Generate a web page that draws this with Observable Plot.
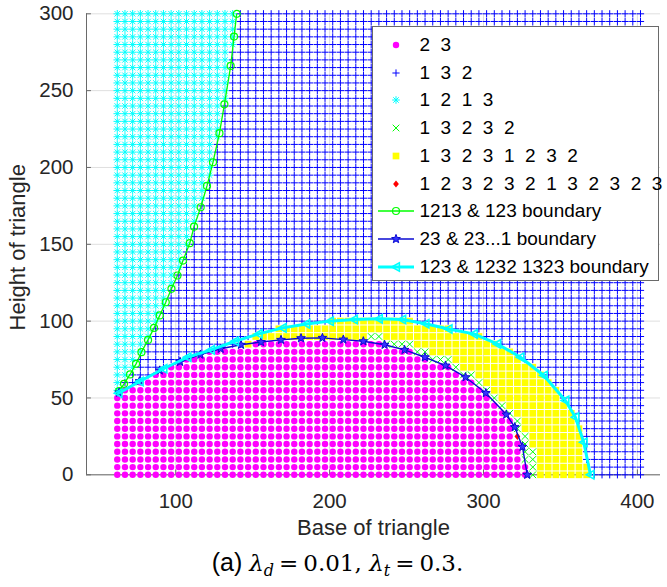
<!DOCTYPE html>
<html><head><meta charset="utf-8">
<script src="https://cdn.jsdelivr.net/npm/d3@7"></script>
<script src="https://cdn.jsdelivr.net/npm/@observablehq/plot@0.6"></script>
<style>
html,body{margin:0;padding:0;background:#fff;}
body{width:667px;height:587px;overflow:hidden;position:relative;font-family:"Liberation Sans",Arial,sans-serif;}
#chart{position:absolute;left:0;top:0;}
#legend{position:absolute;left:372px;top:26px;width:287px;height:255px;border:1px solid #6a6a6a;background:#fff;box-sizing:border-box;overflow:visible;}
.lrow{position:absolute;left:0;height:28px;width:287px;overflow:visible;}
.lrow svg{position:absolute;left:0;top:0;}
.ltxt{position:absolute;left:46.5px;top:3px;font-size:19px;line-height:22px;white-space:pre;color:#000;}
#caption{position:absolute;left:4px;width:667px;top:547px;text-align:center;font-size:25px;line-height:30px;color:#000;white-space:nowrap;}
#caption .m{font-family:"DejaVu Serif",serif;font-size:23px;}
#caption .eq{font-family:"DejaVu Serif",serif;font-size:23px;padding:0 5px;}
#caption i{font-family:"DejaVu Serif",serif;font-style:italic;font-size:23px;}
#caption sub{font-size:16px;vertical-align:-5px;line-height:0;}
#caption sub i{font-size:16px;}
</style>
</head><body>
<div id="chart"></div>
<div id="legend"></div>
<div id="caption">(a) <i>λ</i><sub><i>d</i></sub><span class="eq">=</span><span class="m">0.01, </span><i>λ</i><sub><i>t</i></sub><span class="eq">=</span><span class="m">0.3.</span></div>
<script>
// ---------------- data ----------------
const baseValues = [62,67,72,77,82,87,92,97,102,107,112,117,122,127,132,137,142,147,152,157,162,167,172,177,182,187,192,197,202,207,212,217,222,227,232,237,242,247,252,257,262,267,272,277,282,287,292,297,302,307,312,317,322,327,332,337,342,347,352,357,362,367,372,377,382,387,392,397,402];
const heightValues = [0,5,10,15,20,25,30,35,40,45,50,55,60,65,70,75,80,85,90,95,100,105,110,115,120,125,130,135,140,145,150,155,160,165,170,175,180,185,190,195,200,205,210,215,220,225,230,235,240,245,250,255,260,265,270,275,280,285,290,295,300];
// per base column: highest height of each region (stacked from the bottom)
const pinkTop = [50,55,55,60,60,65,65,70,70,75,75,75,80,80,80,80,80,80,85,85,85,85,85,85,85,85,85,85,85,85,85,85,85,85,85,80,80,80,80,75,75,70,70,70,65,60,60,55,50,45,40,35,20,5,-5,-5,-5,-5,-5,-5,-5,-5,-5,-5,-5,-5,-5,-5,-5];
const greenTop = [50,55,55,60,60,65,65,70,70,75,75,75,80,80,80,80,80,80,85,85,85,85,85,85,85,85,85,85,85,85,85,85,85,90,90,85,85,85,85,80,80,75,75,75,70,65,65,60,55,50,45,40,35,25,15,-5,-5,-5,-5,-5,-5,-5,-5,-5,-5,-5,-5,-5,-5];
const yellowTop = [50,55,55,60,60,65,65,70,70,75,75,75,80,80,80,80,80,85,90,90,90,95,95,95,95,95,95,95,100,100,100,100,100,100,100,100,100,100,100,95,95,95,95,95,90,90,90,90,85,85,80,80,75,70,70,65,60,55,45,40,30,5,-5,-5,-5,-5,-5,-5,-5];
// lowest height of the "1 2 1 3" region in each column (null: none)
const asteriskFrom = [55,65,70,80,90,100,110,125,135,150,165,180,195,220,245,280,null,null,null,null,null,null,null,null,null,null,null,null,null,null,null,null,null,null,null,null,null,null,null,null,null,null,null,null,null,null,null,null,null,null,null,null,null,null,null,null,null,null,null,null,null,null,null,null,null,null,null,null,null];
const redBase = [322];
const redHeight = [25];

// boundaries
const greenBx = [63.2,66.4,70.3,74.2,77.7,82.0,85.9,89.6,93.5,97.2,101.1,104.7,109.1,111.9,116.2,120.3,124.2,128.4,131.6,135.7,137.9,139.6];
const greenBy = [54.4,59.2,65.3,72.2,79.8,87.8,95.6,103.7,112.3,121.0,129.7,139.4,150.7,161.5,174.1,188.0,203.4,222.3,241.1,266.1,285.2,300.0];
const starBx = [63.2,76.4,89.6,102.8,116.0,129.2,142.4,155.4,168.4,181.4,195.3,208.9,221.9,235.7,248.7,261.9,275.3,288.3,301.5,314.8,320.3,325.3,328.4];
const starBy = [53.5,60.9,67.9,73.5,78.2,82.0,84.6,86.4,87.8,88.9,89.1,88.0,86.9,84.6,81.3,76.5,71.1,63.5,53.2,39.2,31.0,18.2,0];
const cyanBx = [62.8,76.6,92.0,107.6,122.9,138.5,153.9,169.5,184.9,200.2,215.8,232.0,247.2,262.3,277.3,293.7,308.9,324.0,339.2,353.2,359.7,365.1,369.5];
const cyanBy = [53.1,60.7,69.0,76.5,81.3,86.9,91.7,95.6,98.2,100.0,101.1,101.5,101.1,98.3,94.9,91.7,85.2,76.5,64.6,48.4,37.5,21.2,0];

const xTicks = [100,200,300,400];
const yTicks = [0,50,100,150,200,250,300];
const legendLabels = ["2  3","1  3  2","1  2  1  3","1  3  2  3  2","1  3  2  3  1  2  3  2","1  2  3  2  3  2  1  3  2  3  2  3","1213 & 123 boundary","23 & 23...1 boundary","123 & 1232 1323 boundary"];

// ---------------- styles ----------------
const PINK="#ff00ff", BLUE="#0000ff", CYAN="#00ffff", GREEN="#00ff00", YELLOW="#ffff00", RED="#ff0000", NAVY="#0a0ad2";

const shapes = {
  plus(c,r){c.moveTo(-r,0);c.lineTo(r,0);c.moveTo(0,-r);c.lineTo(0,r);},
  times(c,r){c.moveTo(-r,-r);c.lineTo(r,r);c.moveTo(-r,r);c.lineTo(r,-r);},
  asterisk(c,r){const k=r*0.72;c.moveTo(-r,0);c.lineTo(r,0);c.moveTo(0,-r);c.lineTo(0,r);c.moveTo(-k,-k);c.lineTo(k,k);c.moveTo(-k,k);c.lineTo(k,-k);},
  square(c,r){c.moveTo(-r,-r);c.lineTo(r,-r);c.lineTo(r,r);c.lineTo(-r,r);c.closePath();},
  diamond(c,r){c.moveTo(0,-r);c.lineTo(r*0.8,0);c.lineTo(0,r);c.lineTo(-r*0.8,0);c.closePath();},
  circle(c,r){c.moveTo(r,0);c.arc(0,0,r,0,2*Math.PI);c.closePath();},
  triLeft(c,r){c.moveTo(-r,0);c.lineTo(r*0.8,-r);c.lineTo(r*0.8,r);c.closePath();},
  star(c,r){for(let i=0;i<10;i++){const a=-Math.PI/2+i*Math.PI/5;const rr=i%2?r*0.42:r;const px=rr*Math.cos(a),py=rr*Math.sin(a);if(i===0)c.moveTo(px,py);else c.lineTo(px,py);}c.closePath();}
};
const sym = f => ({draw(c,size){f(c,Math.sqrt(size/Math.PI));}});

// ---------------- build grid table ----------------
const cells = [];
baseValues.forEach((b,k) => {
  heightValues.forEach(h => {
    let cls;
    const isRed = redBase.some((rb,i)=>rb===b && redHeight[i]===h);
    if (isRed) cls = "red";
    else if (h <= pinkTop[k]) cls = "pink";
    else if (h <= greenTop[k]) cls = "green";
    else if (h <= yellowTop[k]) cls = "yellow";
    else if (asteriskFrom[k] !== null && h >= asteriskFrom[k]) cls = "cyan";
    else cls = "blue";
    cells.push({b, h, cls});
  });
});
const of = c => cells.filter(d => d.cls === c);
const zip = (xs, ys) => xs.map((x,i)=>({x, y: ys[i]}));
const greenB = zip(greenBx, greenBy), starB = zip(starBx, starBy), cyanB = zip(cyanBx, cyanBy);

const X0 = 42;
const chart = Plot.plot({
  width: 667, height: 540,
  marginLeft: 86, marginRight: 7, marginTop: 13.3, marginBottom: 65.7,
  x: {domain: [X0, 415], axis: null},
  y: {domain: [0, 300], axis: null},
  style: {fontFamily: '"Liberation Sans", Arial, sans-serif', fontSize: "20.5px", color: "#262626", background: "white"},
  marks: [
    Plot.gridX(xTicks, {stroke: "#262626", strokeOpacity: 0.15}),
    Plot.gridY(yTicks, {stroke: "#262626", strokeOpacity: 0.15}),
    Plot.ruleY([0], {stroke: "#6a6a6a", strokeWidth: 1}),
    Plot.ruleX([X0], {stroke: "#6a6a6a", strokeWidth: 1}),
    Plot.ruleX(xTicks, {x: d=>d, y1: 0, y2: 3.2, stroke: "#6a6a6a"}),
    Plot.ruleY(yTicks, {y: d=>d, x1: X0, x2: X0+3.2, stroke: "#6a6a6a"}),
    Plot.axisX(xTicks, {tickSize: 0, tickPadding: 19, label: null, fill: "#262626"}),
    Plot.axisY(yTicks, {tickSize: 0, tickPadding: 13, label: null, fill: "#262626"}),
    Plot.text(["Base of triangle"], {frameAnchor: "bottom", lineAnchor: "middle", textAnchor: "middle", dy: 53, fontSize: 22, fill: "#262626"}),
    Plot.text(["Height of triangle"], {frameAnchor: "left", lineAnchor: "middle", textAnchor: "middle", dx: -69, dy: 3, rotate: -90, fontSize: 22, fill: "#262626"}),
    Plot.dot(of("pink"), {x: "b", y: "h", r: 3.2, fill: PINK, stroke: "none"}),
    Plot.dot(of("blue"), {x: "b", y: "h", r: 3.6, symbol: sym(shapes.plus), stroke: BLUE, fill: "none", strokeWidth: 1}),
    Plot.dot(of("cyan"), {x: "b", y: "h", r: 3.8, symbol: sym(shapes.asterisk), stroke: CYAN, fill: "none", strokeWidth: 1}),
    Plot.dot(of("green"), {x: "b", y: "h", r: 3.3, symbol: sym(shapes.times), stroke: GREEN, fill: "none", strokeWidth: 1}),
    Plot.dot(of("yellow"), {x: "b", y: "h", r: 3.35, symbol: sym(shapes.square), fill: YELLOW, stroke: "none"}),
    Plot.dot(of("red"), {x: "b", y: "h", r: 3.6, symbol: sym(shapes.diamond), fill: RED, stroke: "none"}),
    Plot.line(greenB, {x: "x", y: "y", stroke: GREEN, strokeWidth: 1.3}),
    Plot.dot(greenB, {x: "x", y: "y", r: 3.5, stroke: GREEN, fill: "none", strokeWidth: 1.2}),
    Plot.line(starB, {x: "x", y: "y", stroke: NAVY, strokeWidth: 1.4}),
    Plot.dot(starB, {x: "x", y: "y", r: 4.6, symbol: sym(shapes.star), stroke: NAVY, fill: "#3535ff", strokeWidth: 1}),
    Plot.line(cyanB, {x: "x", y: "y", stroke: CYAN, strokeWidth: 3}),
    Plot.dot(cyanB, {x: "x", y: "y", r: 4.2, symbol: sym(shapes.triLeft), stroke: CYAN, fill: "none", strokeWidth: 1.6})
  ]
});
document.getElementById("chart").appendChild(chart);

// ---------------- legend ----------------
const legendStyles = [
  {shape: "circle", r: 3.2, fill: PINK, stroke: "none", sw: 0},
  {shape: "plus", r: 3.6, fill: "none", stroke: BLUE, sw: 1},
  {shape: "asterisk", r: 3.8, fill: "none", stroke: CYAN, sw: 1},
  {shape: "times", r: 3.3, fill: "none", stroke: GREEN, sw: 1},
  {shape: "square", r: 3.35, fill: YELLOW, stroke: "none", sw: 0},
  {shape: "diamond", r: 3.6, fill: RED, stroke: "none", sw: 0},
  {shape: "circle", r: 3.5, fill: "none", stroke: GREEN, sw: 1.2, line: GREEN, lw: 1.3},
  {shape: "star", r: 4.6, fill: "#3535ff", stroke: NAVY, sw: 1, line: NAVY, lw: 1.4},
  {shape: "triLeft", r: 4.2, fill: "none", stroke: CYAN, sw: 1.6, line: CYAN, lw: 3}
];
const legend = document.getElementById("legend");
legendLabels.forEach((lab, i) => {
  const st = legendStyles[i];
  const cy = 18 + 27.7 * i;
  const row = document.createElement("div");
  row.className = "lrow";
  row.style.top = (cy - 14) + "px";
  const p = d3.path(); shapes[st.shape](p, st.r);
  let svg = `<svg width="46" height="28" viewBox="0 0 46 28">`;
  if (st.line) svg += `<line x1="5" x2="41" y1="14" y2="14" stroke="${st.line}" stroke-width="${st.lw}"/>`;
  svg += `<path transform="translate(23,14)" d="${p.toString()}" fill="${st.fill}" stroke="${st.stroke}" stroke-width="${st.sw}"/>`;
  svg += `</svg>`;
  row.innerHTML = svg;
  const t = document.createElement("span");
  t.className = "ltxt";
  t.textContent = lab;
  row.appendChild(t);
  legend.appendChild(row);
});
</script>
</body></html>
